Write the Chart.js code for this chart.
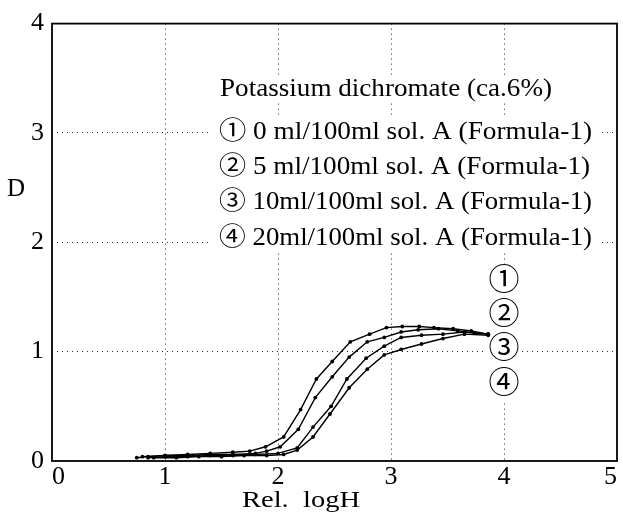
<!DOCTYPE html>
<html>
<head>
<meta charset="utf-8">
<script src="https://cdn.jsdelivr.net/npm/chart.js@4/dist/chart.umd.min.js"></script>
<style>
  body { margin: 0; background: #fff; }
  #wrap { width: 623px; height: 523px; }
</style>
</head>
<body>
<div id="wrap"><canvas id="chart" width="623" height="523"></canvas></div>
<script>
// curve data (Rel. logH vs D)
var logH1 = [0.75, 0.85, 1.0, 1.2, 1.4, 1.6, 1.75, 1.89, 2.05, 2.20, 2.34, 2.48, 2.64, 2.81, 2.96, 3.10, 3.25, 3.38, 3.55, 3.71, 3.86];
var D1    = [0.03, 0.04, 0.05, 0.06, 0.07, 0.08, 0.09, 0.13, 0.22, 0.47, 0.75, 0.91, 1.09, 1.16, 1.22, 1.23, 1.23, 1.22, 1.21, 1.19, 1.16];

var logH2 = [0.80, 1.0, 1.2, 1.4, 1.6, 1.8, 1.90, 2.02, 2.18, 2.33, 2.48, 2.63, 2.79, 2.94, 3.09, 3.24, 3.42, 3.59, 3.74, 3.86];
var D2    = [0.04, 0.05, 0.05, 0.06, 0.06, 0.07, 0.09, 0.13, 0.29, 0.58, 0.77, 0.95, 1.09, 1.13, 1.18, 1.20, 1.21, 1.19, 1.17, 1.16];

var logH3 = [0.85, 1.0, 1.2, 1.4, 1.6, 1.8, 2.0, 2.17, 2.31, 2.47, 2.61, 2.78, 2.94, 3.09, 3.27, 3.46, 3.65, 3.86];
var D3    = [0.03, 0.04, 0.04, 0.05, 0.05, 0.06, 0.07, 0.12, 0.31, 0.50, 0.75, 0.94, 1.05, 1.13, 1.15, 1.16, 1.18, 1.16];

var logH4 = [0.90, 1.1, 1.3, 1.5, 1.7, 1.9, 2.05, 2.17, 2.31, 2.46, 2.63, 2.79, 2.94, 3.09, 3.27, 3.46, 3.65, 3.86];
var D4    = [0.03, 0.03, 0.04, 0.04, 0.05, 0.05, 0.06, 0.10, 0.22, 0.43, 0.67, 0.84, 0.97, 1.02, 1.07, 1.12, 1.16, 1.15];

var x_ticks = [0, 1, 2, 3, 4, 5];
var y_ticks = [0, 1, 2, 3, 4];

var legend_title = "Potassium dichromate (ca.6%)";
var legend_lines = [
  "\u2460 0 ml/100ml sol. A (Formula-1)",
  "\u2461 5 ml/100ml sol. A (Formula-1)",
  "\u2462 10ml/100ml sol. A (Formula-1)",
  "\u2463 20ml/100ml sol. A (Formula-1)"
];
var curve_tags = ["\u2460", "\u2461", "\u2462", "\u2463"];

var SERIF = "'Liberation Serif', 'Times New Roman', 'DejaVu Serif', 'Noto Sans CJK JP', serif";

function make_points(xs, ys){
  var pts = [];
  for(var i=0;i<xs.length;i++){
    pts.push({x: xs[i], y: ys[i]});
  }
  return pts;
}

function make_dataset(xs, ys){
  return {
    data: make_points(xs, ys),
    showLine: true,
    borderColor: "#000",
    borderWidth: 1.4,
    pointRadius: 1.9,
    pointBackgroundColor: "#000",
    pointBorderWidth: 0,
    tension: 0
  };
}

// draw text squeezed/stretched to a given width
function fit_text(ctx, str, x, y, w){
  var m = ctx.measureText(str).width;
  ctx.save();
  ctx.translate(x, y);
  ctx.scale(w / m, 1);
  ctx.fillText(str, 0, 0);
  ctx.restore();
}

var decor = {
  id: "decor",
  beforeDatasetsDraw: function(chart){ // white boxes behind the labels hide the grid
    var ctx = chart.ctx;
    ctx.save();
    ctx.fillStyle = "#fff";
    ctx.fillRect(213, 75, 384, 27);
    ctx.fillRect(211, 116, 388, 136);
    ctx.fillRect(487, 266, 34, 134);
    ctx.restore();
  },
  afterDraw: function(chart){
    var ctx = chart.ctx;
    var a = chart.chartArea;
    ctx.save();
    // frame
    ctx.strokeStyle = "#000";
    ctx.lineWidth = 1.8;
    ctx.strokeRect(a.left, a.top, a.right - a.left, a.bottom - a.top);

    ctx.fillStyle = "#000";
    ctx.textBaseline = "alphabetic";
    ctx.textAlign = "left";
    ctx.font = "25px " + SERIF;
    fit_text(ctx, legend_title, 220, 96, 332);
    var ys = [139, 174, 209, 245];
    for(var i=0;i<legend_lines.length;i++){
      fit_text(ctx, legend_lines[i], 219, ys[i], i == 1 ? 371 : 373);
    }

    // tags at the curve ends
    ctx.textBaseline = "middle";
    ctx.textAlign = "center";
    ctx.font = "31px " + SERIF;
    var ty = [282, 316, 350, 385];
    for(var j=0;j<curve_tags.length;j++){
      ctx.fillText(curve_tags[j], 504, ty[j]);
    }

    // axis titles
    ctx.font = "25px " + SERIF;
    ctx.fillText("D", 16, 189);
    ctx.textAlign = "left";
    ctx.textBaseline = "alphabetic";
    ctx.font = "24px " + SERIF;
    fit_text(ctx, "Rel.  logH", 242, 507, 118);
    ctx.restore();
  }
};

function grid_color(ctx){
  var v = ctx.tick ? ctx.tick.value : null;
  var s = ctx.scale;
  if(v === s.min || v === s.max) return "rgba(0,0,0,0)";
  return "#222";
}

var chart_ctx = document.getElementById("chart").getContext("2d");
var my_chart = new Chart(chart_ctx, {
  type: "scatter",
  data: {
    datasets: [
      make_dataset(logH1, D1),
      make_dataset(logH2, D2),
      make_dataset(logH3, D3),
      make_dataset(logH4, D4)
    ]
  },
  options: {
    responsive: false,
    animation: false,
    layout: { padding: { top: 17, right: 6, left: 0, bottom: 0 } },
    plugins: { legend: { display: false }, tooltip: { enabled: false } },
    scales: {
      x: {
        type: "linear",
        min: x_ticks[0],
        max: x_ticks[x_ticks.length-1],
        afterBuildTicks: function(s){ s.ticks = x_ticks.map(function(v){ return {value: v}; }); },
        afterFit: function(s){ s.height = 62; },
        ticks: {
          align: "inner",
          padding: 1,
          color: "#000",
          font: { family: SERIF, size: 26 }
        },
        grid: { color: grid_color, lineWidth: 1, drawTicks: false },
        border: { display: false, dash: [1, 4] }
      },
      y: {
        type: "linear",
        min: y_ticks[0],
        max: y_ticks[y_ticks.length-1],
        afterBuildTicks: function(s){ s.ticks = y_ticks.map(function(v){ return {value: v}; }); },
        afterFit: function(s){ s.width = 52; },
        ticks: {
          padding: 8,
          color: "#000",
          font: { family: SERIF, size: 26 }
        },
        grid: { color: grid_color, lineWidth: 1, drawTicks: false },
        border: { display: false, dash: [1, 4] }
      }
    }
  },
  plugins: [decor]
});
</script>
</body>
</html>
